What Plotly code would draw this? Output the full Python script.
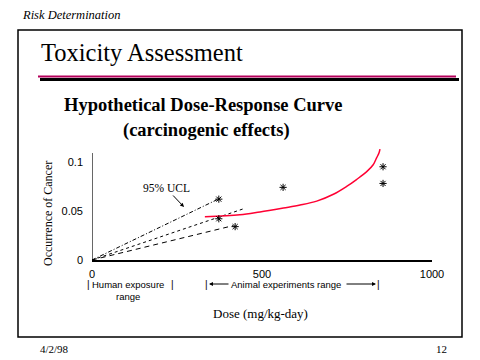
import plotly.graph_objects as go

# page body has an 8px margin: the figure is drawn 8px in from the top-left
OFF = 8
W, H = 480 - OFF, 360 - OFF
def px(x): return (x - OFF) / W
def py(y): return 1 - (y - OFF) / H

SERIF = "Liberation Serif, Times New Roman, serif"
SANS = "Liberation Sans, Arial, sans-serif"

# ---- data ----
curve_dose = [332, 435, 494, 563, 612, 661, 710, 749, 778, 808, 827, 837, 844, 847]
curve_occ = [0.044, 0.046, 0.049, 0.053, 0.056, 0.060, 0.067, 0.075, 0.082, 0.090, 0.097, 0.104, 0.109, 0.113]
obs_dose = [373, 373, 421, 562, 856, 856]
obs_occ = [0.062, 0.042, 0.034, 0.074, 0.095, 0.078]
ucl_dose = [0, 371]
ucl_occ = [0, 0.062]
mid_dose = [0, 444]
mid_occ = [0, 0.052]
low_dose = [0, 415]
low_occ = [0, 0.035]
x_ticks = [0, 500, 1000]
x_tick_labels = ["0", "500", "1000"]
y_ticks = [0, 0.05, 0.1]
y_tick_labels = ["0", "0.05", "0.1"]

fig = go.Figure()
fig.add_trace(go.Scatter(x=ucl_dose, y=ucl_occ, mode="lines",
                         line=dict(color="black", width=1, dash="4px,2px,1px,2px")))
fig.add_trace(go.Scatter(x=mid_dose, y=mid_occ, mode="lines",
                         line=dict(color="black", width=1, dash="3px,3px")))
fig.add_trace(go.Scatter(x=low_dose, y=low_occ, mode="lines",
                         line=dict(color="black", width=1, dash="5px,4px")))
fig.add_trace(go.Scatter(x=curve_dose, y=curve_occ, mode="lines", line_shape="spline",
                         line=dict(color="#ff0033", width=1.5)))
fig.add_trace(go.Scatter(x=obs_dose, y=obs_occ, mode="markers", cliponaxis=False,
                         marker=dict(symbol="asterisk-open", size=6, color="black",
                                     line=dict(color="black", width=1))))

ann = []
def text(t, x, y, size, font=SERIF, xanchor="center", **kw):
    ann.append(dict(text=t, x=px(x), y=py(y), xref="paper", yref="paper",
                    showarrow=False, xanchor=xanchor, yanchor="middle",
                    font=dict(family=font, size=size, color="black"), **kw))

text("<i>Risk Determination</i>", 20, 15, 12.5, xanchor="left")
text("Toxicity Assessment", 39, 53, 24.5, xanchor="left")
text("<b>Hypothetical Dose-Response Curve</b>", 203, 105, 18.5)
text("<b>(carcinogenic effects)</b>", 206, 131, 18.5)
text("Occurrence of Cancer", 48, 214, 12, textangle=-90)
text("Dose (mg/kg-day)", 260, 313, 13)
text("4/2/98", 38, 349, 11, xanchor="left")
text("12", 441, 349, 11)

text("|", 88, 284, 10, font=SANS)
text("Human exposure", 127.5, 284, 9.5, font=SANS)
text("|", 172, 284, 10, font=SANS)
text("range", 128, 296, 9.5, font=SANS)
text("|", 206, 284, 10, font=SANS)
text("Animal experiments range", 285.5, 284, 9.5, font=SANS)
text("|", 378, 284, 10, font=SANS)

# range arrows
ann.append(dict(text="", x=px(209), y=py(284), xref="paper", yref="paper",
                ax=21, ay=0, showarrow=True, arrowhead=2, arrowsize=0.8,
                arrowwidth=1, arrowcolor="black"))
ann.append(dict(text="", x=px(376), y=py(284), xref="paper", yref="paper",
                ax=-31, ay=0, showarrow=True, arrowhead=2, arrowsize=0.8,
                arrowwidth=1, arrowcolor="black"))
# 95% UCL label
ann.append(dict(text="95% UCL", x=px(184), y=py(207), xref="paper", yref="paper",
                ax=-18, ay=-19, showarrow=True, arrowhead=2, arrowsize=0.8,
                arrowwidth=1, arrowcolor="black",
                font=dict(family=SERIF, size=11.5, color="black")))

shapes = [
    dict(type="rect", xref="paper", yref="paper", x0=px(18), x1=px(462), y0=py(30), y1=py(337),
         line=dict(color="black", width=1.5)),
    dict(type="line", xref="paper", yref="paper", x0=px(40), x1=px(459), y0=py(79.5), y1=py(79.5),
         line=dict(color="black", width=3)),
    dict(type="line", xref="paper", yref="paper", x0=px(38), x1=px(456), y0=py(76.5), y1=py(76.5),
         line=dict(color="#b4005a", width=2)),
    dict(type="line", xref="x", yref="y", x0=0, x1=0, y0=0, y1=0.109,
         line=dict(color="black", width=1.2)),
]

fig.update_layout(
    width=W, height=H, margin=dict(l=0, r=0, t=0, b=0, pad=0, autoexpand=False),
    paper_bgcolor="white", plot_bgcolor="white", showlegend=False,
    annotations=ann, shapes=shapes,
    xaxis=dict(domain=[px(92), px(432)], range=[0, 1000], showgrid=False, zeroline=False,
               automargin=False,
               showline=True, linecolor="black", linewidth=1.5, ticks="",
               tickvals=x_ticks, ticktext=x_tick_labels, ticklabelstandoff=3,
               tickfont=dict(family=SANS, size=11, color="black")),
    yaxis=dict(domain=[py(260), py(148.6)], range=[0, 0.1135], showgrid=False, zeroline=False,
               automargin=False,
               showline=False, ticks="",
               tickvals=y_ticks, ticktext=y_tick_labels, ticklabelstandoff=8,
               tickfont=dict(family=SANS, size=11, color="black")),
)

fig.write_html("out.html")
